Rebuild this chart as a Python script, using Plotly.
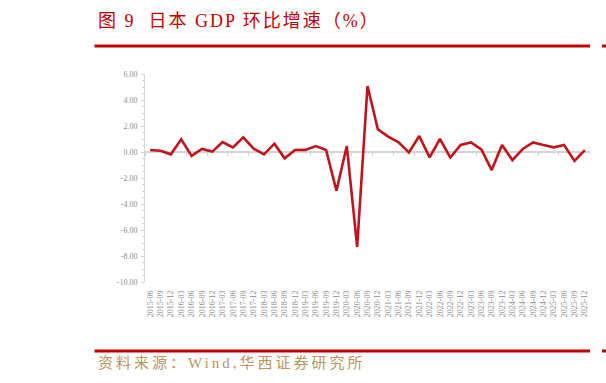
import plotly.graph_objects as go

categories = [
    "2015-06", "2015-09", "2015-12",
    "2016-03", "2016-06", "2016-09", "2016-12",
    "2017-03", "2017-06", "2017-09", "2017-12",
    "2018-03", "2018-06", "2018-09", "2018-12",
    "2019-03", "2019-06", "2019-09", "2019-12",
    "2020-03", "2020-06", "2020-09", "2020-12",
    "2021-03", "2021-06", "2021-09", "2021-12",
    "2022-03", "2022-06", "2022-09", "2022-12",
    "2023-03", "2023-06", "2023-09", "2023-12",
    "2024-03", "2024-06", "2024-09", "2024-12",
    "2025-03", "2025-06", "2025-09", "2025-12",
]
gdp_qoq = [
    0.15, 0.10, -0.18,
    0.98, -0.30, 0.23, 0.03,
    0.77, 0.36, 1.13, 0.26,
    -0.18, 0.64, -0.49, 0.15,
    0.16, 0.46, 0.15, -2.98,
    0.46, -7.30, 5.08, 1.75,
    1.18, 0.75, -0.03, 1.23,
    -0.41, 1.00, -0.42, 0.54,
    0.74, 0.20, -1.39, 0.54,
    -0.62, 0.23, 0.74, 0.54,
    0.36, 0.54, -0.69, 0.15,
]
y_ticks = [6, 4, 2, 0, -2, -4, -6, -8, -10]
y_tick_text = ["6.00", "4.00", "2.00", "0.00", "-2.00", "-4.00", "-6.00", "-8.00", "-10.00"]

title_text = "图 9  日本 GDP 环比增速（%）"
source_text = "资料来源：Wind,华西证券研究所"

RED = "#c00000"
LINE_RED = "#c0141c"
GRAY_TXT = "#8c8c8c"
AXIS_GRAY = "#d4d4d4"
SERIF = "Liberation Serif, Noto Sans CJK SC, serif"

W, H = 606, 383
L, R, T, B = 145, 16, 74, 101
pw, ph = W - L - R, H - T - B


def px_x(px):
    return (px - L) / pw


def px_y(py):
    return (H - B - py) / ph


fig = go.Figure()

# invisible trace to host the zero-line axis
fig.add_trace(go.Scatter(
    x=categories, y=gdp_qoq, xaxis="x2", mode="lines",
    line=dict(width=0, color="rgba(0,0,0,0)"), hoverinfo="skip", showlegend=False,
))
fig.add_trace(go.Scatter(
    x=categories, y=gdp_qoq, mode="lines",
    line=dict(color=LINE_RED, width=2.6), showlegend=False,
))

ymin, ymax = -10, 6
fig.update_layout(
    width=W, height=H,
    margin=dict(l=L, r=R, t=T, b=B, pad=0),
    paper_bgcolor="white", plot_bgcolor="white",
    xaxis=dict(
        type="category", range=[-0.5, len(categories) - 0.5],
        showline=False, showgrid=False, zeroline=False, ticks="",
        tickangle=-90, tickfont=dict(family=SERIF, size=8, color=GRAY_TXT),
        ticklabelstandoff=6,
    ),
    xaxis2=dict(
        type="category", overlaying="x", anchor="free",
        position=(0 - ymin) / (ymax - ymin),
        range=[-0.5, len(categories) - 0.5],
        showline=True, linecolor=AXIS_GRAY, linewidth=1.5,
        ticks="outside", ticklen=3, tickcolor=AXIS_GRAY, tickson="boundaries",
        showticklabels=False, showgrid=False, zeroline=False,
        layer="below traces",
    ),
    yaxis=dict(
        range=[ymin, ymax], tickvals=y_ticks, ticktext=y_tick_text,
        showline=True, linecolor=AXIS_GRAY, linewidth=1,
        ticks="outside", ticklen=3, tickcolor=AXIS_GRAY,
        minor=dict(ticks="outside", ticklen=2, dtick=0.5, tickcolor=AXIS_GRAY, showgrid=False),
        showgrid=False, zeroline=False,
        tickfont=dict(family=SERIF, size=8, color=GRAY_TXT),
        ticklabelstandoff=2,
    ),
    shapes=[
        dict(type="line", xref="paper", yref="paper",
             x0=px_x(94.5), x1=px_x(590), y0=px_y(46), y1=px_y(46),
             line=dict(color=RED, width=3)),
        dict(type="line", xref="paper", yref="paper",
             x0=px_x(602), x1=px_x(606), y0=px_y(46), y1=px_y(46),
             line=dict(color=RED, width=3)),
        dict(type="line", xref="paper", yref="paper",
             x0=px_x(94.5), x1=px_x(590), y0=px_y(351), y1=px_y(351),
             line=dict(color=RED, width=3)),
        dict(type="line", xref="paper", yref="paper",
             x0=px_x(602), x1=px_x(606), y0=px_y(351), y1=px_y(351),
             line=dict(color=RED, width=3)),
    ],
    annotations=[
        dict(text='<span style="letter-spacing:2px">' + title_text + '</span>',
             xref="paper", yref="paper",
             x=px_x(96), y=px_y(21), xanchor="left", yanchor="middle",
             showarrow=False, font=dict(family=SERIF, size=18, color=RED)),
        dict(text='<span style="letter-spacing:3px">' + source_text + '</span>',
             xref="paper", yref="paper",
             x=px_x(96), y=px_y(363), xanchor="left", yanchor="middle",
             showarrow=False, font=dict(family=SERIF, size=15, color="#b8955e")),
    ],
)

fig.write_html("out.html")
